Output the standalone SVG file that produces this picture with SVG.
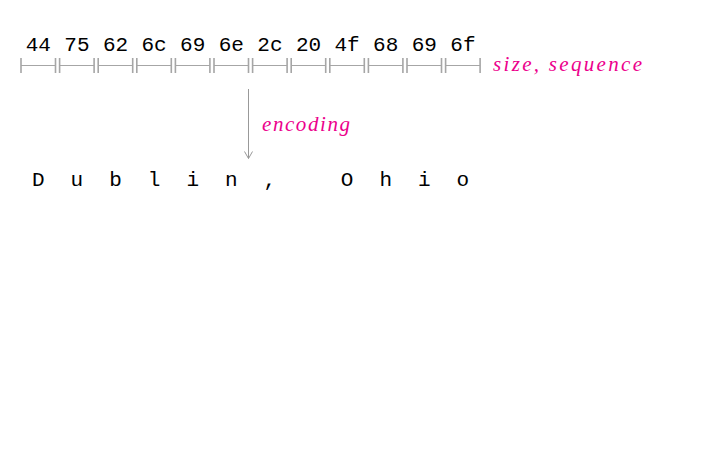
<svg xmlns="http://www.w3.org/2000/svg" width="723" height="459" viewBox="0 0 723 459">
<defs>
<style>
.hex{font-family:"Liberation Mono","DejaVu Sans Mono",monospace;font-size:21px;fill:#000;text-anchor:middle}
.chr{font-family:"Liberation Mono","DejaVu Sans Mono",monospace;font-size:21px;fill:#000;text-anchor:middle}
.lbl{font-family:"Liberation Serif","DejaVu Serif",serif;font-style:italic;font-size:21px;fill:#ec008c}
.seg{stroke:#a6a6a6;stroke-width:1;fill:none}
.tick{stroke:#a6a6a6;stroke-width:1.6;fill:none}
.conn{stroke:#999;stroke-width:1;fill:none}
</style>
<marker id="arr" viewBox="0 0 10 10" refX="9" refY="5" markerWidth="10" markerHeight="10" markerUnits="userSpaceOnUse" orient="auto">
<path d="M2,1 L9,5 L2,9" fill="none" stroke="#999" stroke-width="1"/>
</marker>
</defs>
<rect width="723" height="459" fill="#fff"/>
<g id="bytes">
<g id="b0"><text class="hex" x="38.3" y="51">44</text><path class="seg" d="M21,65.5H55.5"/><path class="tick" d="M21,58V73M55.5,58V73"/></g>
<g id="b1"><text class="hex" x="76.9" y="51">75</text><path class="seg" d="M59.6,65.5H94.1"/><path class="tick" d="M59.6,58V73M94.1,58V73"/></g>
<g id="b2"><text class="hex" x="115.5" y="51">62</text><path class="seg" d="M98.2,65.5H132.7"/><path class="tick" d="M98.2,58V73M132.7,58V73"/></g>
<g id="b3"><text class="hex" x="154.1" y="51">6c</text><path class="seg" d="M136.8,65.5H171.3"/><path class="tick" d="M136.8,58V73M171.3,58V73"/></g>
<g id="b4"><text class="hex" x="192.7" y="51">69</text><path class="seg" d="M175.4,65.5H209.9"/><path class="tick" d="M175.4,58V73M209.9,58V73"/></g>
<g id="b5"><text class="hex" x="231.3" y="51">6e</text><path class="seg" d="M214,65.5H248.5"/><path class="tick" d="M214,58V73M248.5,58V73"/></g>
<g id="b6"><text class="hex" x="269.9" y="51">2c</text><path class="seg" d="M252.6,65.5H287.1"/><path class="tick" d="M252.6,58V73M287.1,58V73"/></g>
<g id="b7"><text class="hex" x="308.5" y="51">20</text><path class="seg" d="M291.2,65.5H325.7"/><path class="tick" d="M291.2,58V73M325.7,58V73"/></g>
<g id="b8"><text class="hex" x="347.1" y="51">4f</text><path class="seg" d="M329.8,65.5H364.3"/><path class="tick" d="M329.8,58V73M364.3,58V73"/></g>
<g id="b9"><text class="hex" x="385.7" y="51">68</text><path class="seg" d="M368.4,65.5H402.9"/><path class="tick" d="M368.4,58V73M402.9,58V73"/></g>
<g id="b10"><text class="hex" x="424.3" y="51">69</text><path class="seg" d="M407,65.5H441.5"/><path class="tick" d="M407,58V73M441.5,58V73"/></g>
<g id="b11"><text class="hex" x="462.9" y="51">6f</text><path class="seg" d="M445.6,65.5H480.1"/><path class="tick" d="M445.6,58V73M480.1,58V73"/></g>
<text id="size-label" class="lbl" x="493" y="71" textLength="149" lengthAdjust="spacing">size, sequence</text>
</g>
<g id="decoded">
<text class="chr" x="38.3" y="186">D</text>
<text class="chr" x="76.9" y="186">u</text>
<text class="chr" x="115.5" y="186">b</text>
<text class="chr" x="154.1" y="186">l</text>
<text class="chr" x="192.7" y="186">i</text>
<text class="chr" x="231.3" y="186">n</text>
<text class="chr" x="269.9" y="186">,</text>
<text class="chr" x="347.1" y="186">O</text>
<text class="chr" x="385.7" y="186">h</text>
<text class="chr" x="424.3" y="186">i</text>
<text class="chr" x="462.9" y="186">o</text>
</g>
<g id="connectors">
<path class="conn" d="M248.5,89V158.5" marker-end="url(#arr)"/>
<text id="encoding-label" class="lbl" x="262" y="131" textLength="88" lengthAdjust="spacing">encoding</text>
</g>
</svg>
